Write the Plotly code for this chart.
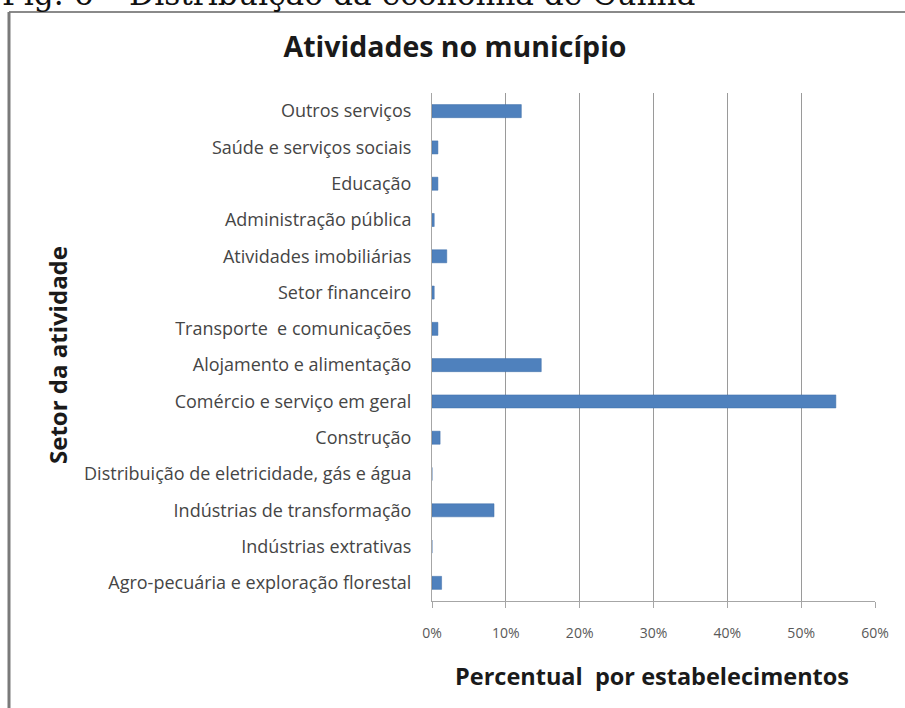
import plotly.graph_objects as go

categories = [
    "Outros serviços",
    "Saúde e serviços sociais",
    "Educação",
    "Administração pública",
    "Atividades imobiliárias",
    "Setor financeiro",
    "Transporte  e comunicações",
    "Alojamento e alimentação",
    "Comércio e serviço em geral",
    "Construção",
    "Distribuição de eletricidade, gás e água",
    "Indústrias de transformação",
    "Indústrias extrativas",
    "Agro-pecuária e exploração florestal",
]
values = [0.121, 0.008, 0.008, 0.003, 0.020, 0.003, 0.008, 0.148, 0.547, 0.011, 0.0, 0.084, 0.0, 0.013]
x_ticks = [0, 0.1, 0.2, 0.3, 0.4, 0.5, 0.6]
x_tick_labels = ["0%", "10%", "20%", "30%", "40%", "50%", "60%"]

W, H = 905, 708
L, R, T, B = 432, 30, 93, 107
pw, ph = W - L - R, H - T - B

def px(x):
    return (x - L) / pw

def py(y):
    return (H - B - y) / ph

FONT = "Open Sans"

fig = go.Figure()
fig.add_trace(go.Bar(
    y=categories, x=values, orientation="h",
    marker=dict(color="#4F81BD", line=dict(color="#3f6fa8", width=0.5)),
    width=0.36,
))

fig.update_layout(
    width=W, height=H,
    margin=dict(l=L, r=R, t=T, b=B),
    paper_bgcolor="white", plot_bgcolor="white",
    showlegend=False,
    font=dict(family=FONT, color="#404040"),
    xaxis=dict(
        range=[0, 0.6], tickvals=x_ticks, ticktext=x_tick_labels,
        showgrid=True, gridcolor="#9a9a9a", gridwidth=1,
        showline=True, linecolor="#a6a6a6", linewidth=1,
        ticks="outside", ticklen=6, tickcolor="#a6a6a6",
        tickfont=dict(family=FONT, size=14, color="#595959"),
        ticklabelstandoff=13,
        zeroline=False,
        fixedrange=True,
    ),
    yaxis=dict(
        autorange="reversed",
        showgrid=False, showline=True, linecolor="#a6a6a6", linewidth=1,
        ticks="", tickfont=dict(family=FONT, size=18, color="#454545"),
        ticklabelstandoff=16,
        fixedrange=True,
    ),
    title=dict(text="Atividades no município", xref="container", x=455 / W, xanchor="center",
               yref="container", y=1 - 47 / H, yanchor="middle",
               font=dict(family=FONT, size=28.5, color="#1a1a1a", weight="bold")),
)

# Axis titles
fig.add_annotation(
    text="Percentual  por estabelecimentos",
    xref="paper", yref="paper", x=px(652), y=py(676), xanchor="center", yanchor="middle",
    showarrow=False, font=dict(family=FONT, size=23.5, color="#1a1a1a", weight="bold"),
)
fig.add_annotation(
    text="Setor da atividade", textangle=-90,
    xref="paper", yref="paper", x=px(57), y=py(355), xanchor="center", yanchor="middle",
    showarrow=False, font=dict(family=FONT, size=24, color="#1a1a1a", weight="bold"),
)

# Caption partly cut off at the top
fig.add_annotation(
    text="Fig. 6 – Distribuição da economia de Cunha",
    xref="paper", yref="paper", x=px(0), y=py(14), xanchor="left", yanchor="bottom",
    showarrow=False, font=dict(family="DejaVu Serif", size=31.3, color="#111111"),
)

# Frame of the chart
fig.add_shape(type="line", xref="paper", yref="paper",
              x0=px(9), x1=px(910), y0=py(12), y1=py(12),
              line=dict(color="#8a8a8a", width=2))
fig.add_shape(type="line", xref="paper", yref="paper",
              x0=px(9), x1=px(9), y0=py(12), y1=py(715),
              line=dict(color="#7a7a7a", width=3))

fig.write_html("out.html")
